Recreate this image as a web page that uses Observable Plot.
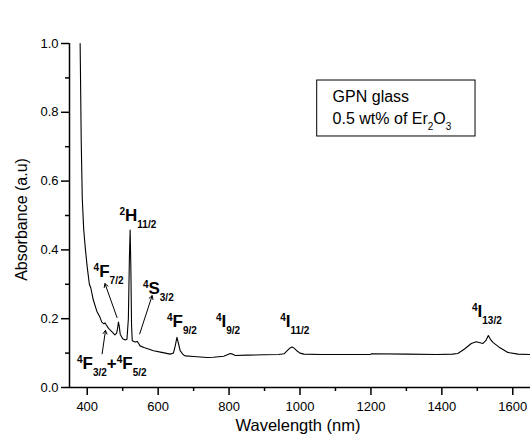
<!DOCTYPE html>
<html><head><meta charset="utf-8">
<script src="https://cdn.jsdelivr.net/npm/d3@7"></script>
<script src="https://cdn.jsdelivr.net/npm/@observablehq/plot@0.6"></script>
<style>
body{margin:0;background:#fff}
svg{font-family:"Liberation Sans",Arial,Helvetica,sans-serif}
</style>
</head><body><div id="chart"></div>
<script>
// Absorption spectrum (wavelength in nm, absorbance in a.u.)
const wavelength = [380,383,386,390,395,400,406,410,417,427,436,441,447,450,453,460,470,478,483,486,488,490,493,500,507,512,516,519,521,523,525,527,535,541,545,549,560,587,610,634,643,648,653,658,662,670,676,700,738,756,785,795,803,810,818,850,898,940,955,964,972,978,985,992,1000,1011,1058,1100,1199,1201,1300,1388,1430,1445,1464,1483,1497,1505,1516,1524,1531,1537,1544,1563,1586,1615,1650];
const absorbance = [1.0,0.72,0.55,0.46,0.40,0.35,0.30,0.29,0.255,0.222,0.204,0.19,0.185,0.188,0.183,0.172,0.162,0.153,0.158,0.175,0.19,0.18,0.155,0.142,0.138,0.14,0.2,0.38,0.458,0.35,0.18,0.136,0.132,0.134,0.128,0.121,0.116,0.107,0.102,0.097,0.1,0.12,0.146,0.125,0.107,0.096,0.092,0.09,0.087,0.088,0.091,0.095,0.099,0.097,0.093,0.094,0.095,0.096,0.098,0.107,0.115,0.118,0.113,0.106,0.1,0.097,0.096,0.096,0.096,0.098,0.097,0.096,0.097,0.099,0.112,0.128,0.133,0.131,0.128,0.136,0.151,0.14,0.131,0.116,0.102,0.097,0.096];

const xTicks = [400,600,800,1000,1200,1400,1600];
const xMinorTicks = [500,700,900,1100,1300,1500];
const yTicks = [0,0.2,0.4,0.6,0.8,1.0];
const yMinorTicks = [0.1,0.3,0.5,0.7,0.9];

// Transition labels (markup: ^{sup} _{sub}) and their anchor points in data units
const transitionLabels = ["^{2}H_{11/2}","^{4}F_{7/2}","^{4}S_{3/2}","^{4}F_{3/2}+^{4}F_{5/2}","^{4}F_{9/2}","^{4}I_{9/2}","^{4}I_{11/2}","^{4}I_{13/2}"];
const labelX = [491,418,557,371,625,763,944,1485];
const labelY = [0.483,0.320,0.272,0.054,0.175,0.175,0.175,0.204];

// Arrows (tail -> head), data units
const arrowX1 = [484,548,442];
const arrowY1 = [0.2035,0.156,0.098];
const arrowX2 = [450,583,451.5];
const arrowY2 = [0.302,0.267,0.166];

const legendLines = ["GPN glass","0.5 wt% of Er_{2}O_{3}"];
const legendY = [0.829,0.767];

const spectrum = wavelength.map((w,i) => ({w, a: absorbance[i]}));
const labels = transitionLabels.map((t,i) => ({t, x: labelX[i], y: labelY[i]}));
const arrows = arrowX1.map((x1,i) => ({x1, y1: arrowY1[i], x2: arrowX2[i], y2: arrowY2[i]}));
const legend = legendLines.map((t,i) => ({t, y: legendY[i]}));

function rich(mainSize, smallSize, supShift, subShift) {
  return (index, scales, values, dims, context, next) => {
    const g = next(index, scales, values, dims, context);
    for (const t of g.querySelectorAll("text")) {
      const s = t.textContent;
      t.textContent = "";
      let shift = 0;
      for (const part of s.split(/(\^\{[^}]*\}|_\{[^}]*\})/).filter(Boolean)) {
        let target = 0, size = mainSize, txt = part;
        if (part.startsWith("^{")) { target = -supShift; size = smallSize; txt = part.slice(2,-1); }
        else if (part.startsWith("_{")) { target = subShift; size = smallSize; txt = part.slice(2,-1); }
        const ts = document.createElementNS("http://www.w3.org/2000/svg","tspan");
        ts.setAttribute("dy", target - shift);
        ts.setAttribute("font-size", size);
        ts.textContent = txt;
        t.appendChild(ts);
        shift = target;
      }
    }
    return g;
  };
}

const chart = Plot.plot({
  width: 530,
  height: 441,
  marginLeft: 69,
  marginRight: 0,
  marginTop: 43,
  marginBottom: 54,
  style: {fontFamily: '"Liberation Sans",Arial,Helvetica,sans-serif', color: "black", background: "white"},
  x: {domain: [350, 1650]},
  y: {domain: [0, 1]},
  marks: [
    Plot.axisX(xTicks, {tickSize: 8, tickPadding: 6, tickFormat: "d", fontSize: 13, label: null, strokeWidth: 1.5}),
    Plot.axisX(xMinorTicks, {tickSize: 4, tickFormat: () => "", label: null, strokeWidth: 1.5}),
    Plot.axisY(yTicks, {tickSize: 8, tickPadding: 3, tickFormat: ".1f", fontSize: 13, label: null, strokeWidth: 1.5}),
    Plot.axisY(yMinorTicks, {tickSize: 4, tickFormat: () => "", label: null, strokeWidth: 1.5}),
    Plot.ruleY([0], {strokeWidth: 1.5}),
    Plot.ruleX([350], {y1: 0, y2: 1, strokeWidth: 1.5}),
    Plot.line(spectrum, {x: "w", y: "a", stroke: "black", strokeWidth: 1.1}),
    Plot.arrow(arrows, {x1: "x1", y1: "y1", x2: "x2", y2: "y2", stroke: "black", strokeWidth: 1, headLength: 6}),
    Plot.text(labels, {x: "x", y: "y", text: "t", textAnchor: "start", lineAnchor: "bottom", fontSize: 17, fontWeight: "bold", fill: "black", render: rich(17, 10, 6, 7)}),
    Plot.rect([0], {x1: 1048.5, x2: 1495, y1: 0.7297, y2: 0.8924, fill: "none", stroke: "black", strokeWidth: 1}),
    Plot.text(legend, {x: 1092, y: "y", text: "t", textAnchor: "start", lineAnchor: "bottom", fontSize: 16, fill: "black", render: rich(16, 10, 0, 6)}),
    Plot.text(["Wavelength (nm)"], {frameAnchor: "bottom", dy: 43, dx: -2, textAnchor: "middle", lineAnchor: "bottom", fontSize: 16.5, fill: "black"}),
    Plot.text(["Absorbance (a.u)"], {frameAnchor: "left", dx: -48, dy: 4, rotate: -90, textAnchor: "middle", lineAnchor: "middle", fontSize: 16, fill: "black"})
  ]
});
document.getElementById("chart").appendChild(chart);
</script>
</body></html>
